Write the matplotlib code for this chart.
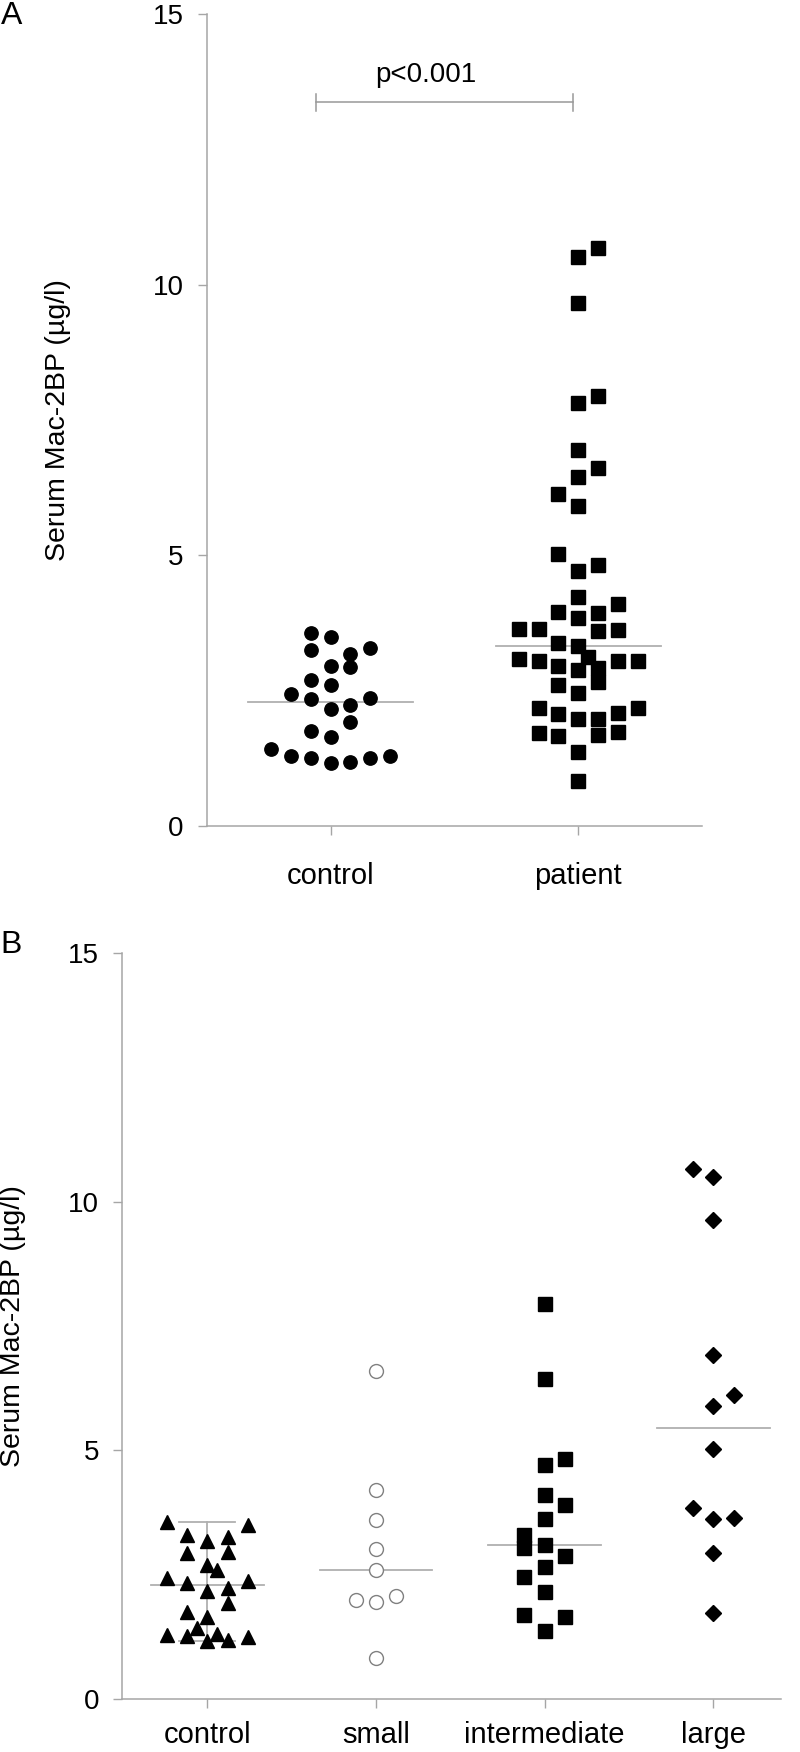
import matplotlib
matplotlib.use('Agg')
import matplotlib.pyplot as plt
import numpy as np

plt.rcParams['font.family'] = ['Liberation Sans', 'DejaVu Sans']

GRAY = '#a6a6a6'
LINE_GRAY = '#b0b0b0'

# ---- data (Serum Mac-2BP, ug/l) ----
control_vals = [3.56, 3.49, 3.29, 3.25, 3.18, 2.96, 2.93, 2.69, 2.60, 2.44, 2.37, 2.34,
                2.24, 2.17, 1.92, 1.75, 1.64, 1.42, 1.30, 1.29, 1.26, 1.25, 1.19, 1.16]
patient_vals = [10.67, 10.51, 9.67, 7.95, 7.81, 6.94, 6.62, 6.45, 6.13, 5.91,
                5.02, 4.83, 4.72, 4.24, 4.11, 3.96, 3.93, 3.85, 3.64, 3.64, 3.63, 3.61,
                3.38, 3.32, 3.12, 3.09, 3.05, 3.05, 3.05, 2.96, 2.92, 2.89, 2.67, 2.61,
                2.46, 2.19, 2.18, 2.08, 2.07, 1.98, 1.97, 1.74, 1.72, 1.68, 1.67, 1.37, 0.83]
small_vals = [6.59, 4.21, 3.60, 3.02, 2.59, 2.06, 1.98, 1.95, 0.82]
intermediate_vals = [7.94, 6.43, 4.82, 4.70, 4.10, 3.91, 3.61, 3.30, 3.10, 3.04,
                     2.87, 2.66, 2.45, 2.16, 1.69, 1.65, 1.36]
large_vals = [10.65, 10.50, 9.63, 6.91, 6.12, 5.89, 5.02, 3.83, 3.64, 3.62, 2.93, 1.73]

groups_a = ['control', 'patient']
groups_b = ['control', 'small', 'intermediate', 'large']
p_text = 'p<0.001'
ylabel = 'Serum Mac-2BP (µg/l)'

# swarm column of each point (in marker widths), same order as the values
control_cols_a = [-1, 0, 2, -1, 1, 0, 1, -1, 0, -2, 2, -1, 1, 0, 1, -1, 0, -3, 3, -2, -1, 2, 1, 0]
patient_cols = [1, 0, 0, 1, 0, 0, 1, 0, -1, 0,
                -1, 1, 0, 0, 2, -1, 1, 0, -3, -2, 2, 1,
                -1, 0, 0.5, -3, -2, 2, 3, -1, 1, 0, 1, -1,
                0, 3, -2, 2, -1, 1, 0, 2, -2, 1, -1, 0, 0]
control_cols_b = [-2, 2, -1, 1, 0, 1, -1, 0, 0.5, -2, 2, -1, 1, 0, 1, -1, 0, -0.5, 0.5, -2, -1, 2, 1, 0]
small_cols = [0, 0, 0, 0, 0, 1, -1, 0, 0]
intermediate_cols = [0, 0, 1, 0, 0, 1, 0, -1, 0, -1, 1, 0, -1, 0, -1, 1, 0]
large_cols = [-1, 0, 0, 0, 1, 0, 0, -1, 1, 0, 0, 0]

fig = plt.figure(figsize=(8, 17.52), dpi=100)


def style_axes(ax, xlim, xpad):
    ax.set_ylim(0, 15)
    ax.set_xlim(*xlim)
    ax.set_yticks([0, 5, 10, 15])
    for s in ['top', 'right']:
        ax.spines[s].set_visible(False)
    for s in ['left', 'bottom']:
        ax.spines[s].set_color(GRAY)
        ax.spines[s].set_linewidth(1.1)
    ax.tick_params(axis='both', colors=GRAY, length=6.5, width=1.0, labelcolor='black')
    ax.tick_params(axis='y', labelsize=20, pad=10)
    ax.tick_params(axis='x', labelsize=21, pad=xpad)


def median_line(ax, x, vals, half=1 / 3):
    m = np.median(vals)
    ax.plot([x - half, x + half], [m, m], color=LINE_GRAY, lw=1.3, zorder=1)


# ---------------------------------------------------------------- panel A
ax1 = fig.add_axes([0.2584, 0.5285, 0.8775 - 0.2584, 0.992 - 0.5285])
step_a = 0.08
ax1.plot(1 + step_a * np.array(control_cols_a), control_vals, 'o', color='black',
         ms=9.6, mec='black', zorder=3, clip_on=False)
ax1.plot(2 + step_a * np.array(patient_cols), patient_vals, 's', color='black',
         ms=9.6, mec='black', zorder=3, clip_on=False)
median_line(ax1, 1, control_vals)
median_line(ax1, 2, patient_vals)

# significance bracket
ax1.plot([0.94, 1.98], [13.37, 13.37], color='#999999', lw=1.1)
ax1.plot([0.94, 0.94], [13.21, 13.53], color='#999999', lw=1.1)
ax1.plot([1.98, 1.98], [13.21, 13.53], color='#999999', lw=1.1)
ax1.text(1.385, 13.74, p_text, ha='center', va='baseline', fontsize=20)

ax1.set_xticks([1, 2])
ax1.set_xticklabels(groups_a)
style_axes(ax1, (0.5, 2.5), 19.5)
fig.text(58 / 800, 0.760, ylabel, rotation=90, ha='center', va='center', fontsize=20.5)
fig.text(0.001, 0.9995, 'A', ha='left', va='top', fontsize=23)

# ---------------------------------------------------------------- panel B
ax2 = fig.add_axes([0.1525, 0.0303, 0.976 - 0.1525, 0.456 - 0.0303])
step_b = 0.12
ax2.plot(1 + step_b * np.array(control_cols_b), control_vals, '^', color='black',
         ms=9.5, mec='black', zorder=3)
ax2.plot(2 + step_b * np.array(small_cols), small_vals, 'o', mfc='white',
         mec='#808080', mew=1.0, ms=10, zorder=3)
ax2.plot(3 + step_b * np.array(intermediate_cols), intermediate_vals, 's', color='black',
         ms=9.6, mec='black', zorder=3)
ax2.plot(4 + step_b * np.array(large_cols), large_vals, 'D', color='black',
         ms=8.5, mec='black', zorder=3)
for i, vals in enumerate([control_vals, small_vals, intermediate_vals, large_vals]):
    median_line(ax2, i + 1, vals)

# range whiskers for the control group
cmin, cmax = min(control_vals), max(control_vals)
ax2.plot([1, 1], [cmin, cmax], color=LINE_GRAY, lw=1.3, zorder=1)
ax2.plot([1 - 0.166, 1 + 0.166], [cmax, cmax], color=LINE_GRAY, lw=1.3, zorder=1)
ax2.plot([1 - 0.166, 1 + 0.166], [cmin, cmin], color=LINE_GRAY, lw=1.3, zorder=1)

ax2.set_xticks([1, 2, 3, 4])
ax2.set_xticklabels(groups_b)
style_axes(ax2, (0.494, 4.40), 9.5)
fig.text(13 / 800, 0.2432, ylabel, rotation=90, ha='center', va='center', fontsize=20.5)
fig.text(0.001, 0.469, 'B', ha='left', va='top', fontsize=23)

fig.savefig('out.png', dpi=100)
